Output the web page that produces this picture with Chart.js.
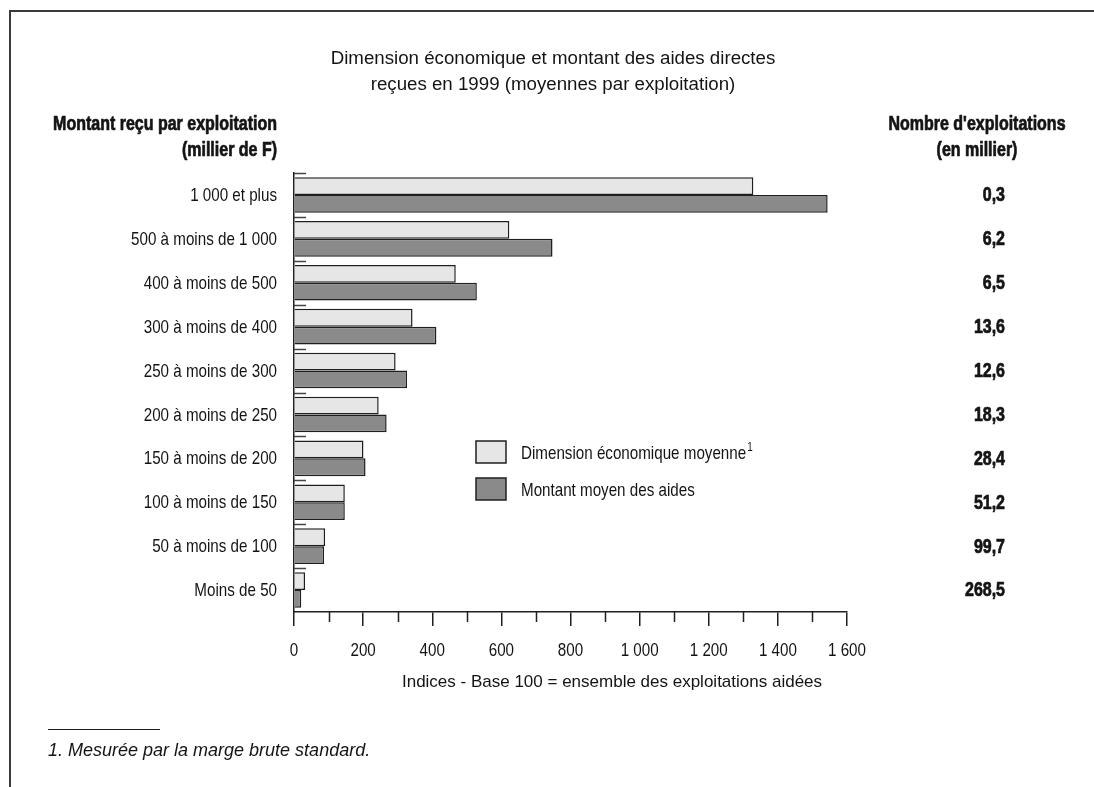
<!DOCTYPE html>
<html lang="fr">
<head>
<meta charset="utf-8">
<title>Dimension économique et montant des aides directes</title>
<script src="https://cdn.jsdelivr.net/npm/chart.js@4.4.1/dist/chart.umd.min.js"></script>
<style>
  html, body { margin: 0; padding: 0; background: #fff; }
  #wrap { position: relative; width: 1094px; height: 787px; overflow: hidden; }
  #cadre { position: absolute; left: 9px; top: 10px; right: -4px; bottom: -4px;
           border-left: 2px solid #3a3a3a; border-top: 2px solid #3a3a3a; }
  canvas { position: absolute; left: 0; top: 0; }
</style>
</head>
<body>
<div id="wrap">
  <div id="cadre"></div>
  <canvas id="grafico" width="1094" height="787"></canvas>
</div>
<script>
/* ===== données ===== */
const CATEGORIES = [
  "1 000 et plus",
  "500 à moins de 1 000",
  "400 à moins de 500",
  "300 à moins de 400",
  "250 à moins de 300",
  "200 à moins de 250",
  "150 à moins de 200",
  "100 à moins de 150",
  "50 à moins de 100",
  "Moins de 50"
];
const DIMENSION_ECO = [1329, 623, 468, 343, 294, 245, 201, 147, 90, 32];
const MONTANT_AIDES = [1544, 748, 529, 412, 327, 268, 207, 147, 87, 21];
const NB_EXPLOITATIONS = [0.3, 6.2, 6.5, 13.6, 12.6, 18.3, 28.4, 51.2, 99.7, 268.5];

const SERIES = ["Dimension économique moyenne", "Montant moyen des aides"];
const TITRE = [
  "Dimension économique et montant des aides directes",
  "reçues en 1999 (moyennes par exploitation)"
];
const ENTETE_GAUCHE = ["Montant reçu par exploitation", "(millier de F)"];
const ENTETE_DROITE = ["Nombre d'exploitations", "(en millier)"];
const TITRE_X = "Indices - Base 100 = ensemble des exploitations aidées";
const NOTE = "1. Mesurée par la marge brute standard.";

/* ===== style ===== */
const SANS = "'Liberation Sans', Arial, sans-serif";
const ETROIT = 0.82; // compression horizontale (police étroite absente)
const TXT = "#141414";
const CLAIR = "#e6e6e6";
const FONCE = "#8a8a8a";
const TRAIT = "#1f1f1f";

function fmtMilliers(v) {
  return String(v).replace(/\B(?=(\d{3})+(?!\d))/g, " ");
}
function fmtVirgule(v) {
  return v.toFixed(1).replace(".", ",");
}

// texte étroit : Liberation Sans comprimée horizontalement
function texteEtroit(ctx, txt, x, y, align, font, epais) {
  ctx.save();
  ctx.font = font;
  ctx.textAlign = align;
  ctx.textBaseline = "middle";
  ctx.translate(x, y);
  ctx.scale(ETROIT, 1);
  ctx.fillText(txt, 0, 0);
  if (epais) {
    ctx.strokeStyle = ctx.fillStyle;
    ctx.lineWidth = epais;
    ctx.lineJoin = "round";
    ctx.strokeText(txt, 0, 0);
  }
  const w = ctx.measureText(txt).width * ETROIT;
  ctx.restore();
  return w;
}

/* textes et repères autour du graphique */
const decor = {
  id: "decor",
  afterDraw(chart) {
    const { ctx } = chart;
    const x = chart.scales.x;
    const y = chart.scales.y;
    const pas = Math.abs(y.getPixelForValue(1) - y.getPixelForValue(0));
    const normal = `18.5px ${SANS}`;
    const gras = `bold 19.5px ${SANS}`;

    ctx.save();
    ctx.fillStyle = TXT;
    ctx.textBaseline = "middle";

    // titre
    ctx.font = `18.7px ${SANS}`;
    ctx.textAlign = "center";
    TITRE.forEach((t, i) => ctx.fillText(t, 553, 59 + i * 26));

    // en-têtes de colonnes
    ENTETE_GAUCHE.forEach((t, i) => texteEtroit(ctx, t, 277, 125 + i * 26, "right", gras, 0.7));
    ENTETE_DROITE.forEach((t, i) => texteEtroit(ctx, t, 977, 125 + i * 26, "center", gras, 0.7));

    // libellés des catégories (axe y)
    y.ticks.forEach((t, i) => {
      texteEtroit(ctx, y.getLabelForValue(t.value), y.right - 17, y.getPixelForTick(i) + 1, "right", normal);
    });

    // nombre d'exploitations
    NB_EXPLOITATIONS.forEach((v, i) => {
      texteEtroit(ctx, fmtVirgule(v), 1005, y.getPixelForValue(i) + 1, "right", gras, 0.7);
    });

    // libellés de l'axe x
    x.ticks.forEach((t, i) => {
      if (t.value % 200 === 0) {
        texteEtroit(ctx, fmtMilliers(t.value), x.getPixelForTick(i), 651, "center", normal);
      }
    });

    // petits repères entre catégories
    ctx.strokeStyle = "#444";
    ctx.lineWidth = 1.5;
    CATEGORIES.forEach((c, i) => {
      const yy = Math.round(y.getPixelForValue(i) - pas / 2) + 0.5;
      ctx.beginPath();
      ctx.moveTo(x.left, yy);
      ctx.lineTo(x.left + 12, yy);
      ctx.stroke();
    });

    // graduations intermédiaires (plus courtes)
    ctx.strokeStyle = TRAIT;
    for (let v = 100; v < 1600; v += 200) {
      const px = Math.round(x.getPixelForValue(v)) + 0.5;
      ctx.beginPath();
      ctx.moveTo(px, x.top);
      ctx.lineTo(px, x.top + 10);
      ctx.stroke();
    }

    // titre de l'axe
    ctx.fillStyle = TXT;
    ctx.font = `17px ${SANS}`;
    ctx.textAlign = "center";
    ctx.fillText(TITRE_X, 612, 682);

    // légende
    const boites = [441, 478];
    chart.data.datasets.forEach((ds, i) => {
      ctx.fillStyle = ds.backgroundColor;
      ctx.fillRect(476, boites[i], 30, 22);
      ctx.strokeStyle = TRAIT;
      ctx.lineWidth = 1.5;
      ctx.strokeRect(476, boites[i], 30, 22);
      ctx.fillStyle = TXT;
      const w = texteEtroit(ctx, ds.label, 521, boites[i] + 13, "left", normal);
      if (i === 0) {
        texteEtroit(ctx, "1", 521 + w + 1, boites[i] + 7, "left", `12px ${SANS}`);
      }
    });

    // note
    ctx.strokeStyle = TRAIT;
    ctx.lineWidth = 1.2;
    ctx.beginPath();
    ctx.moveTo(48, 729.5);
    ctx.lineTo(160, 729.5);
    ctx.stroke();
    ctx.fillStyle = TXT;
    ctx.font = `italic 18px ${SANS}`;
    ctx.textAlign = "left";
    ctx.fillText(NOTE, 48, 751);

    ctx.restore();
  }
};

const ctx = document.getElementById("grafico").getContext("2d");
new Chart(ctx, {
  type: "bar",
  data: {
    labels: CATEGORIES,
    datasets: [
      {
        label: SERIES[0],
        data: DIMENSION_ECO,
        backgroundColor: CLAIR,
        borderColor: TRAIT,
        borderWidth: 1.5
      },
      {
        label: SERIES[1],
        data: MONTANT_AIDES,
        backgroundColor: FONCE,
        borderColor: TRAIT,
        borderWidth: 1.5
      }
    ]
  },
  options: {
    indexAxis: "y",
    responsive: false,
    animation: false,
    devicePixelRatio: 1,
    categoryPercentage: 0.81,
    barPercentage: 1.0,
    layout: { padding: { top: 173, right: 247, bottom: 100, left: 0 } },
    plugins: {
      legend: { display: false },
      title: { display: false },
      tooltip: { enabled: false }
    },
    scales: {
      x: {
        type: "linear",
        min: 0,
        max: 1600,
        afterFit: (s) => { s.height = 787 - 612 - 100; },
        border: { display: true, color: TRAIT, width: 1.5 },
        grid: {
          drawOnChartArea: false,
          drawTicks: true,
          tickLength: 14,
          lineWidth: 1.5,
          tickColor: (c) => (c.tick && c.tick.value % 200 === 0 ? TRAIT : "rgba(0,0,0,0)")
        },
        ticks: {
          display: false,
          stepSize: 100,
          autoSkip: false,
          maxRotation: 0
        }
      },
      y: {
        type: "category",
        offset: true,
        afterFit: (s) => { s.width = 294; },
        border: { display: true, color: TRAIT, width: 1.5 },
        grid: { display: false, drawTicks: false },
        ticks: { display: false }
      }
    }
  },
  plugins: [decor]
});
</script>
</body>
</html>
